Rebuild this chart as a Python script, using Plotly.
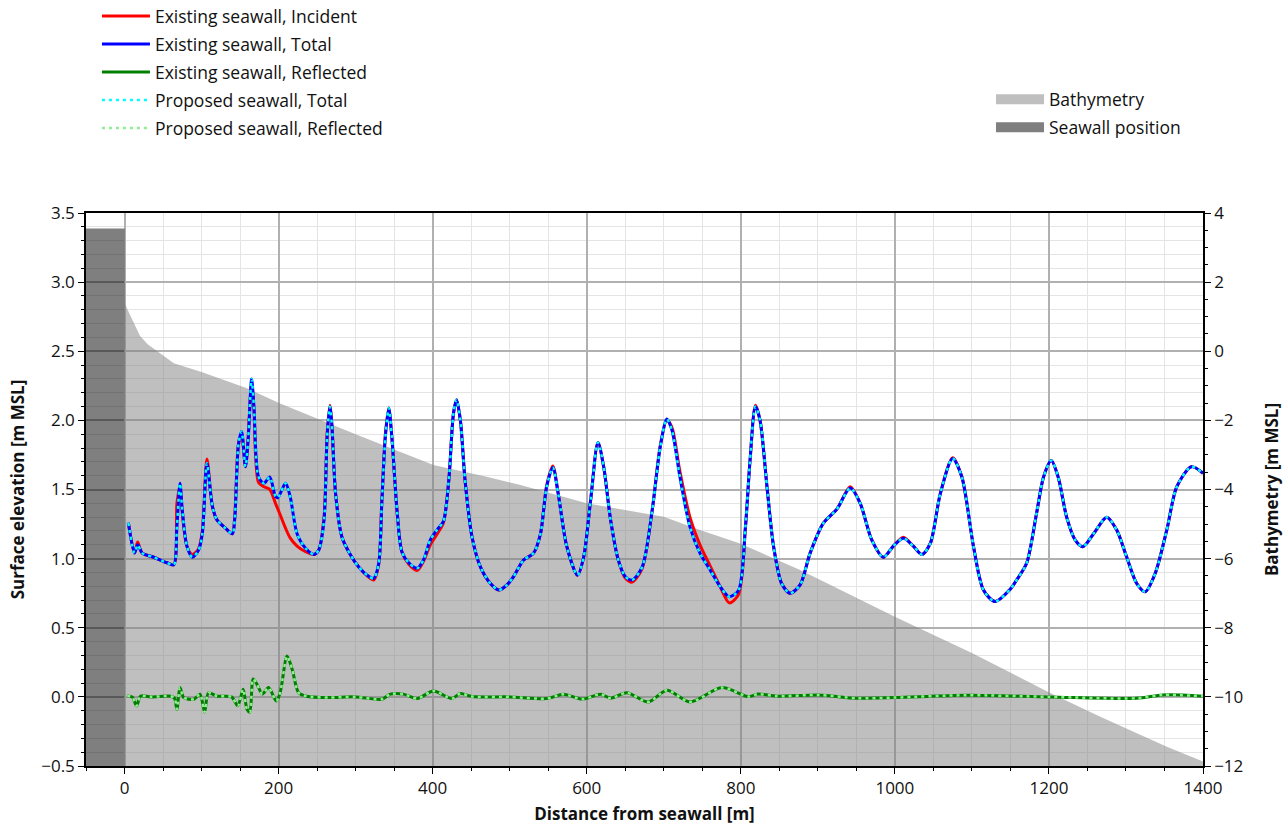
import plotly.graph_objects as go

# ---- Wave height along the profile (distance from seawall in m, elevation in m MSL) ----
distance = [5, 13, 17, 23, 38, 55, 64, 68, 72, 75, 81, 88, 96, 101, 107, 114, 120, 131, 140,
            143, 148, 152, 157, 160.5, 165, 168, 174, 181, 188.5, 196, 199, 209, 215, 224,
            235, 246, 252, 259, 263, 266.5, 269, 274, 282, 293, 304, 315, 323.5, 330, 334,
            338.6, 343, 347, 354, 360, 369, 380, 388, 397, 406, 414, 421, 427, 431, 436, 442,
            451, 462, 475, 486, 496.5, 505, 518, 531, 540, 548, 556, 563, 574, 588, 596, 605,
            614.6, 622, 631, 641, 650, 659, 672, 685, 695.5, 704, 710.6, 721, 734, 747, 760,
            773, 785, 797, 806, 812, 819, 825, 834, 842.5, 853, 864, 877, 890, 907, 925, 942,
            955, 970, 985, 998, 1011, 1024, 1035, 1046, 1059, 1075, 1087, 1102, 1115, 1130,
            1150, 1158, 1171, 1184, 1193, 1203, 1212, 1223, 1234, 1244, 1258, 1275, 1288, 1301,
            1314, 1325, 1338, 1353, 1366, 1385, 1400]

existing_total = [1.26, 1.04, 1.10, 1.04, 1.01, 0.97, 0.955, 1.23, 1.545, 1.35, 1.09, 1.01, 1.06,
                  1.18, 1.69, 1.38, 1.28, 1.22, 1.18, 1.28, 1.83, 1.92, 1.665, 1.86, 2.30, 2.10,
                  1.59, 1.545, 1.59, 1.45, 1.44, 1.545, 1.45, 1.18, 1.075, 1.03, 1.06, 1.28, 1.88,
                  2.10, 1.98, 1.47, 1.16, 1.03, 0.94, 0.88, 0.857, 0.966, 1.40, 1.88, 2.09, 1.88,
                  1.33, 1.05, 0.97, 0.93, 0.99, 1.135, 1.21, 1.27, 1.57, 2.05, 2.15, 2.00, 1.57,
                  1.16, 0.94, 0.82, 0.773, 0.81, 0.87, 0.99, 1.04, 1.18, 1.52, 1.66, 1.47, 1.09,
                  0.88, 1.01, 1.42, 1.84, 1.665, 1.28, 0.99, 0.87, 0.845, 0.94, 1.35, 1.81, 2.01,
                  1.93, 1.59, 1.23, 1.04, 0.92, 0.80, 0.725, 0.77, 1.23, 1.71, 2.10, 2.00, 1.52,
                  1.09, 0.82, 0.75, 0.81, 1.04, 1.255, 1.36, 1.51, 1.40, 1.135, 1.01, 1.09, 1.147,
                  1.09, 1.03, 1.11, 1.47, 1.725, 1.59, 1.09, 0.773, 0.69, 0.78, 0.845, 0.966, 1.33,
                  1.59, 1.71, 1.59, 1.30, 1.135, 1.086, 1.18, 1.30, 1.207, 1.01, 0.82, 0.76, 0.894,
                  1.207, 1.52, 1.665, 1.617]

existing_incident = [1.26, 1.04, 1.12, 1.04, 1.01, 0.97, 0.955, 1.40, 1.52, 1.33, 1.09, 1.03, 1.07,
                     1.20, 1.72, 1.38, 1.28, 1.22, 1.18, 1.30, 1.83, 1.90, 1.665, 1.88, 2.27, 2.08,
                     1.55, 1.52, 1.50, 1.40, 1.36, 1.22, 1.15, 1.09, 1.05, 1.03, 1.06, 1.30, 1.90,
                     2.11, 1.98, 1.47, 1.16, 1.03, 0.94, 0.875, 0.845, 0.96, 1.42, 1.90, 2.09, 1.88,
                     1.33, 1.05, 0.96, 0.915, 0.98, 1.10, 1.18, 1.26, 1.57, 2.05, 2.15, 2.00, 1.57,
                     1.16, 0.94, 0.82, 0.773, 0.81, 0.87, 0.99, 1.04, 1.18, 1.53, 1.67, 1.47, 1.09,
                     0.88, 1.01, 1.42, 1.84, 1.665, 1.28, 0.99, 0.86, 0.83, 0.93, 1.35, 1.82, 2.00,
                     1.95, 1.63, 1.30, 1.10, 0.95, 0.80, 0.68, 0.74, 1.22, 1.71, 2.11, 2.00, 1.52,
                     1.09, 0.82, 0.75, 0.81, 1.04, 1.255, 1.36, 1.52, 1.40, 1.135, 1.01, 1.09, 1.155,
                     1.09, 1.03, 1.11, 1.47, 1.73, 1.59, 1.09, 0.773, 0.69, 0.78, 0.845, 0.966, 1.33,
                     1.59, 1.71, 1.59, 1.30, 1.135, 1.086, 1.18, 1.30, 1.207, 1.01, 0.82, 0.76, 0.894,
                     1.207, 1.52, 1.665, 1.617]

proposed_total = list(existing_total)

# ---- Reflected component ----
refl_distance = [3.5, 10, 15.6, 21, 34, 60, 65, 68, 72, 77, 90, 98, 104, 109, 120, 139, 147, 154,
                 159, 162.6, 167, 172, 179, 187, 197, 202, 211, 217.6, 226, 236, 265, 300, 334,
                 345, 362, 380, 401, 425, 436, 451, 500, 548, 570, 594, 618, 631, 652, 680, 704,
                 734, 775.5, 810, 822, 847, 901, 951, 1000, 1093, 1200, 1314, 1348, 1400]

existing_reflected = [0.007, 0.0, -0.065, 0.006, 0.0, 0.005, -0.01, -0.09, 0.067, -0.005, -0.017,
                      0.019, -0.11, 0.03, 0.005, 0.0, -0.065, 0.055, -0.09, -0.11, 0.13, 0.09,
                      0.02, 0.067, -0.03, 0.03, 0.295, 0.2, 0.03, 0.005, -0.005, 0.0, -0.017,
                      0.02, 0.02, -0.012, 0.043, -0.012, 0.024, 0.002, 0.0, -0.012, 0.019, -0.017,
                      0.019, -0.01, 0.03, -0.037, 0.048, -0.037, 0.067, 0.002, 0.02, 0.005, 0.014,
                      -0.01, -0.005, 0.012, 0.0, -0.01, 0.014, 0.005]

proposed_reflected = list(existing_reflected)

# ---- Bed profile (m MSL) and seawall ----
bathy_distance = [0, 10, 20, 30, 42, 64, 100, 159, 202, 254, 300, 350, 401, 470, 514, 600, 700,
                  747, 799, 877, 1000, 1100, 1201, 1266, 1353, 1400]
bathy_level = [1.39, 0.9, 0.45, 0.2, 0.0, -0.35, -0.6, -1.07, -1.51, -1.99, -2.40, -2.84, -3.29,
               -3.63, -3.87, -4.40, -4.79, -5.17, -5.56, -6.33, -7.68, -8.73, -9.88, -10.57,
               -11.44, -11.87]
bathy_floor = -12
seawall_extent = [-50, 0]
seawall_crest = 3.55

FONT = "Open Sans"
SEAWALL_FILL = "rgba(0,0,0,0.5)"
BATHY_FILL = "rgba(128,128,128,0.5)"

fig = go.Figure()

# Seawall block and bed profile as filled polygons on the bathymetry axis
fig.add_trace(go.Scatter(
    x=[seawall_extent[0], seawall_extent[1], seawall_extent[1], seawall_extent[0]],
    y=[bathy_floor, bathy_floor, seawall_crest, seawall_crest],
    fill="toself", fillcolor=SEAWALL_FILL, mode="lines", line=dict(width=0),
    showlegend=False, yaxis="y", hoverinfo="skip"))
fig.add_trace(go.Scatter(
    x=bathy_distance + [bathy_distance[-1], bathy_distance[0]],
    y=bathy_level + [bathy_floor, bathy_floor],
    fill="toself", fillcolor=BATHY_FILL, mode="lines", line=dict(width=0),
    showlegend=False, yaxis="y", hoverinfo="skip"))

# Patch-style keys for the two filled areas
for name, col, grp in [("Bathymetry", BATHY_FILL, "b1"), ("Seawall position", SEAWALL_FILL, "b2")]:
    fig.add_trace(go.Scatter(x=[None], y=[None], mode="lines", yaxis="y", name=name,
                             legend="legend2", legendgroup=grp,
                             line=dict(color=col, width=14)))

spl = dict(shape="spline", smoothing=0.8)
fig.add_trace(go.Scatter(x=distance, y=existing_incident, mode="lines", yaxis="y2",
                         name="Existing seawall, Incident", legendgroup="g0",
                         line=dict(color="#ff0000", width=3, **spl)))
fig.add_trace(go.Scatter(x=distance, y=existing_total, mode="lines", yaxis="y2",
                         name="Existing seawall, Total", legendgroup="g1",
                         line=dict(color="#0000ff", width=3, **spl)))
fig.add_trace(go.Scatter(x=refl_distance, y=existing_reflected, mode="lines", yaxis="y2",
                         name="Existing seawall, Reflected", legendgroup="g2",
                         line=dict(color="#008000", width=3, **spl)))
fig.add_trace(go.Scatter(x=distance, y=proposed_total, mode="lines", yaxis="y2",
                         name="Proposed seawall, Total", legendgroup="g3",
                         line=dict(color="#00ffff", width=2.5, dash="3px,4px", **spl)))
fig.add_trace(go.Scatter(x=refl_distance, y=proposed_reflected, mode="lines", yaxis="y2",
                         name="Proposed seawall, Reflected", legendgroup="g4",
                         line=dict(color="#90ee90", width=2.5, dash="3px,4px", **spl)))

tick_font = dict(family=FONT, size=17, color="#111111")
title_font = dict(family=FONT, size=17, color="#111111", weight="bold")
legend_font = dict(family=FONT, size=17.5, color="#111111")

fig.update_layout(
    width=1285, height=827,
    margin=dict(l=86, r=82, t=213, b=61, autoexpand=False),
    paper_bgcolor="white", plot_bgcolor="white",
    showlegend=True,
    xaxis=dict(
        range=[-50, 1400], dtick=200, tick0=0,
        title=dict(text="Distance from seawall [m]", font=title_font, standoff=10),
        tickfont=tick_font, ticks="outside", ticklen=6, tickcolor="black",
        showline=True, linecolor="black", linewidth=1.5, mirror=True,
        showgrid=True, gridcolor="#b0b0b0", gridwidth=1.5, zeroline=False,
        minor=dict(dtick=50, tick0=0, showgrid=True, gridcolor="#e4e4e4", gridwidth=1,
                   ticks="outside", ticklen=3, tickcolor="black"),
    ),
    yaxis2=dict(
        range=[-0.5, 3.5], dtick=0.5, tick0=0, tickformat=".1f", side="left",
        overlaying="y",
        title=dict(text="Surface elevation [m MSL]", font=title_font, standoff=12),
        tickfont=tick_font, ticks="outside", ticklen=6, tickcolor="black",
        showline=True, linecolor="black", linewidth=1.5,
        showgrid=True, gridcolor="#b0b0b0", gridwidth=1.5, zeroline=False,
        minor=dict(dtick=0.1, tick0=0, showgrid=True, gridcolor="#e4e4e4", gridwidth=1,
                   ticks="outside", ticklen=3, tickcolor="black"),
    ),
    yaxis=dict(
        range=[-12, 4], dtick=2, tick0=0, side="right",
        title=dict(text="Bathymetry [m MSL]", font=title_font, standoff=24),
        tickfont=tick_font, ticks="outside", ticklen=6, tickcolor="black",
        showline=True, linecolor="black", linewidth=1.5,
        showgrid=False, zeroline=False,
        minor=dict(dtick=0.5, tick0=0, showgrid=False,
                   ticks="outside", ticklen=3, tickcolor="black"),
    ),
    legend=dict(
        x=0.0098, y=1.3884, xanchor="left", yanchor="top",
        font=legend_font, bgcolor="rgba(0,0,0,0)", tracegroupgap=2.2, itemwidth=48,
    ),
    legend2=dict(
        x=0.8102, y=1.2381, xanchor="left", yanchor="top",
        font=legend_font, bgcolor="rgba(0,0,0,0)", tracegroupgap=2.2, itemwidth=48,
    ),
)

fig.write_html("out.html")
